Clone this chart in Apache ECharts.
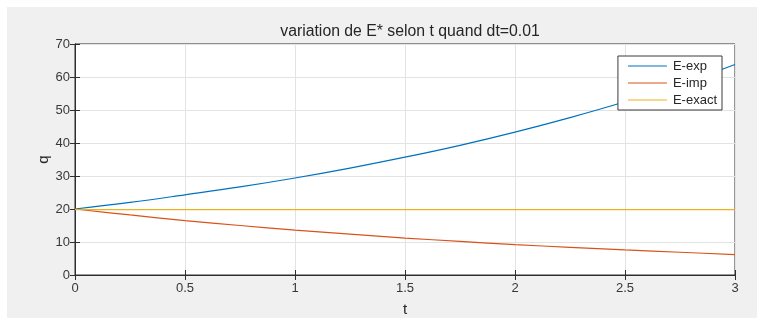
<!DOCTYPE html>
<html>
<head>
<meta charset="utf-8">
<script src="https://cdn.jsdelivr.net/npm/echarts@6/dist/echarts.min.js"></script>
<style>
html,body{margin:0;padding:0;background:#fff;}
#c{width:764px;height:323px;}
</style>
</head>
<body>
<div id="c"></div>
<script>
var tValues = [0, 0.25, 0.5, 0.75, 1, 1.25, 1.5, 1.75, 2, 2.25, 2.5, 2.75, 3];
var eExp = [20, 22.0, 24.3, 26.7, 29.4, 32.4, 35.7, 39.3, 43.3, 47.7, 52.5, 57.8, 63.8];
var eImp = [20, 18.2, 16.5, 15.0, 13.6, 12.4, 11.2, 10.2, 9.2, 8.4, 7.6, 6.9, 6.2];
var eExact = [19.8, 19.8, 19.8, 19.8, 19.8, 19.8, 19.8, 19.8, 19.8, 19.8, 19.8, 19.8, 19.8];
var seriesNames = ['E-exp', 'E-imp', 'E-exact'];
var titleText = 'variation de E* selon t quand dt=0.01';

function pairs(ys) { return tValues.map(function (t, i) { return [t, ys[i]]; }); }

var FONT = 'Liberation Sans, Arial, Helvetica, sans-serif';
var TXT = '#262626';
var TICK = '#383838';
var AX = '#2e2e2e';

var chart = echarts.init(document.getElementById('c'), null, {renderer: 'canvas'});
chart.setOption({
  backgroundColor: '#ffffff',
  animation: false,
  graphic: [{
    type: 'rect', z: -10, silent: true,
    shape: {x: 7, y: 7, width: 750, height: 311},
    style: {fill: '#f0f0f0'}
  }],
  title: {
    text: titleText, left: 405, top: 19, textAlign: 'center',
    textStyle: {fontFamily: FONT, fontSize: 15.8, fontWeight: 'normal', color: TXT}
  },
  legend: {
    orient: 'vertical', right: 42, top: 56,
    data: seriesNames,
    icon: 'path://M0,0L40,0L40,1L0,1Z',
    itemWidth: 39, itemHeight: 1, itemGap: 4,
    padding: [3.5, 5, 3.5, 10],
    backgroundColor: '#ffffff', borderColor: '#3a3a3a', borderWidth: 1, borderRadius: 0,
    textStyle: {fontFamily: FONT, fontSize: 13, color: TXT, padding: [0, 0, 0, 1], lineHeight: 13}
  },
  grid: {left: 75, right: 29, top: 44, bottom: 48, show: true, backgroundColor: '#ffffff', borderColor: AX, borderWidth: 1},
  xAxis: [{
    type: 'value', min: 0, max: 3, interval: 0.5, position: 'bottom',
    name: 't', nameLocation: 'middle', nameGap: 27, nameMoveOverlap: false,
    nameTextStyle: {fontFamily: FONT, fontSize: 15, color: TXT},
    axisLine: {show: true, lineStyle: {color: AX}},
    axisTick: {show: true, inside: true, length: 5, lineStyle: {color: AX}},
    axisLabel: {fontFamily: FONT, fontSize: 13, color: TICK, margin: 7},
    splitLine: {show: true, lineStyle: {color: '#e3e3e3'}}
  }, {
    type: 'value', min: 0, max: 3, interval: 0.5, position: 'top',
    axisLine: {show: true, lineStyle: {color: AX}},
    axisTick: {show: true, inside: true, length: 5, lineStyle: {color: AX}},
    axisLabel: {show: false}, splitLine: {show: false}
  }],
  yAxis: [{
    type: 'value', min: 0, max: 70, interval: 10, position: 'left',
    name: 'q', nameLocation: 'middle', nameGap: 24, nameMoveOverlap: false,
    nameTextStyle: {fontFamily: FONT, fontSize: 15, color: TXT},
    axisLine: {show: true, lineStyle: {color: AX}},
    axisTick: {show: true, inside: true, length: 5, lineStyle: {color: AX}},
    axisLabel: {fontFamily: FONT, fontSize: 13, color: TICK, margin: 5},
    splitLine: {show: true, lineStyle: {color: '#e3e3e3'}}
  }, {
    type: 'value', min: 0, max: 70, interval: 10, position: 'right',
    axisLine: {show: true, lineStyle: {color: AX}},
    axisTick: {show: true, inside: true, length: 5, lineStyle: {color: AX}},
    axisLabel: {show: false}, splitLine: {show: false}
  }],
  series: [
    {name: seriesNames[0], type: 'line', data: pairs(eExp), smooth: 0.4, symbol: 'none', color: '#0072BD', lineStyle: {width: 1.2, color: '#0072BD'}},
    {name: seriesNames[1], type: 'line', data: pairs(eImp), smooth: 0.4, symbol: 'none', color: '#D95319', lineStyle: {width: 1.2, color: '#D95319'}},
    {name: seriesNames[2], type: 'line', data: pairs(eExact), symbol: 'none', color: '#EDB120', lineStyle: {width: 1.2, color: '#EDB120'}}
  ]
});
</script>
</body>
</html>
